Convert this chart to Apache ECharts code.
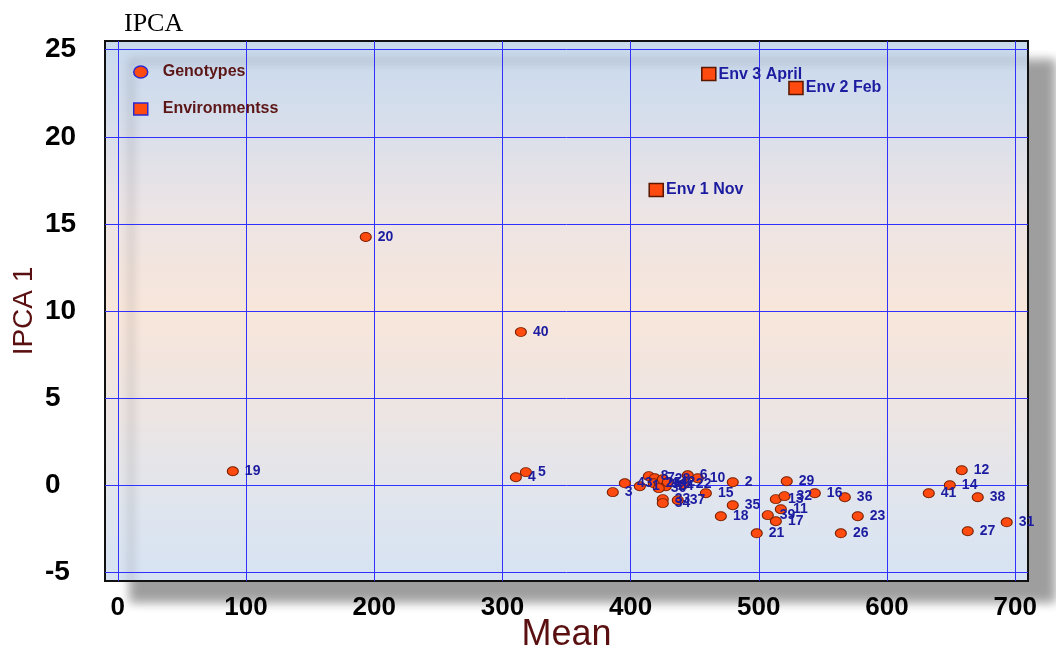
<!DOCTYPE html>
<html>
<head>
<meta charset="utf-8">
<title>IPCA</title>
<script src="https://cdn.jsdelivr.net/npm/echarts@6/dist/echarts.min.js"></script>
<style>
  html, body { margin: 0; padding: 0; background: #ffffff; }
  #chart { width: 1056px; height: 650px; }
</style>
</head>
<body>
<div id="chart"></div>
<script>
// Genotype scores: mean yield and first interaction principal component
const genotypeIds = ['2','3','4','5','6','10','11','12','13','14','15','16','17','18','19','20','21','22','23','26','27','29','31','32','33','34','35','36','37','38','39','40','41','43','1','8','7','25','9','28','24','30','42'];
const genotypeMean = [479.7,386.1,310.5,318.3,444.6,452.4,517.2,658.3,513.3,649.0,458.7,543.7,513.3,470.4,89.7,193.4,498.4,441.5,577.2,564.0,663.0,521.8,693.4,520.0,425.1,425.1,479.7,567.1,436.8,670.8,507.0,314.4,632.6,395.5,407.2,414.2,418.9,418.1,422.8,425.1,427.5,422.0,429.0];
const genotypeIpca1 = [0.17,-0.40,0.46,0.75,0.57,0.40,-1.38,0.86,-0.80,0.00,-0.46,-0.46,-2.07,-1.78,0.80,14.25,-2.76,0.06,-1.78,-2.76,-2.64,0.23,-2.13,-0.63,-0.80,-1.03,-1.15,-0.69,-0.86,-0.69,-1.72,8.79,-0.46,0.11,-0.06,0.52,0.40,0.11,0.06,0.34,-0.06,-0.17,0.17];

// Environment scores
const envNames = ['Env 1 Nov', 'Env 2 Feb', 'Env 3 April'];
const envMean = [420, 529, 461];
const envIpca1 = [16.95, 22.8, 23.6];

// Axis ticks
const xTicks = [0, 100, 200, 300, 400, 500, 600, 700];
const yTicks = [-5, 0, 5, 10, 15, 20, 25];

const genotypeData = genotypeIds.map((id, i) => ({ name: id, value: [genotypeMean[i], genotypeIpca1[i]] }));
const envData = envNames.map((n, i) => ({ name: n, value: [envMean[i], envIpca1[i]] }));

const chart = echarts.init(document.getElementById('chart'), null, { renderer: 'canvas' });

const gridLine = { show: true, lineStyle: { color: '#3030ff', width: 1 } };

chart.setOption({
  animation: false,
  backgroundColor: '#ffffff',
  title: {
    text: 'IPCA',
    left: 119,
    top: 6,
    textStyle: { fontFamily: 'Liberation Serif', fontSize: 26, fontWeight: 'normal', color: '#000000' }
  },
  legend: {
    orient: 'vertical',
    left: 133,
    top: 64,
    padding: 0,
    itemWidth: 14,
    itemHeight: 12,
    itemGap: 21,
    symbolKeepAspect: false,
    textStyle: {
      fontFamily: 'Liberation Sans',
      fontSize: 16,
      fontWeight: 'bold',
      color: '#5c1616',
      padding: [0, 0, 0, 10]
    },
    data: [
      {
        name: 'Genotypes',
        icon: 'path://M0,6 A7,6 0 1,1 14,6 A7,6 0 1,1 0,6 Z',
        itemStyle: { color: '#ff4a10', borderColor: '#2a2ad0', borderWidth: 1.5 }
      },
      {
        name: 'Environmentss',
        icon: 'rect',
        itemStyle: { color: '#ff4a10', borderColor: '#2a2ad0', borderWidth: 1.5 }
      }
    ]
  },
  grid: {
    left: 105,
    right: 28,
    top: 41,
    bottom: 69,
    outerBoundsMode: 'none',
    containLabel: false,
    show: true,
    borderColor: '#111111',
    borderWidth: 2,
    shadowColor: 'rgba(0,0,0,0.38)',
    shadowBlur: 10,
    shadowOffsetX: 26,
    shadowOffsetY: 20,
    backgroundColor: {
      type: 'linear', x: 0, y: 0, x2: 0, y2: 1,
      colorStops: [
        { offset: 0, color: '#c9daee' },
        { offset: 0.12, color: '#d3ddec' },
        { offset: 0.3, color: '#ebe4e6' },
        { offset: 0.5, color: '#f8e6da' },
        { offset: 0.7, color: '#ece5e4' },
        { offset: 0.88, color: '#dee5ef' },
        { offset: 1, color: '#d6e2f3' }
      ]
    }
  },
  xAxis: {
    type: 'value',
    min: -10,
    max: 710,
    name: 'Mean',
    nameLocation: 'middle',
    nameGap: 36,
    nameMoveOverlap: false,
    nameTextStyle: { fontFamily: 'Liberation Sans', fontSize: 36, color: '#5a1010' },
    axisLine: { show: false },
    axisTick: { show: false, customValues: xTicks },
    axisLabel: {
      customValues: xTicks,
      margin: 14,
      fontFamily: 'Liberation Sans',
      fontSize: 26,
      fontWeight: 'bold',
      color: '#000000'
    },
    splitLine: gridLine
  },
  yAxis: {
    type: 'value',
    min: -5.5,
    max: 25.5,
    name: 'IPCA 1',
    nameLocation: 'middle',
    nameGap: 67,
    nameMoveOverlap: false,
    nameTextStyle: { fontFamily: 'Liberation Sans', fontSize: 28, color: '#5a1010' },
    axisLine: { show: false },
    axisTick: { show: false, customValues: yTicks },
    axisLabel: {
      customValues: yTicks,
      align: 'left',
      margin: 60,
      fontFamily: 'Liberation Sans',
      fontSize: 28,
      fontWeight: 'bold',
      color: '#000000'
    },
    splitLine: gridLine
  },
  series: [
    {
      name: 'Genotypes',
      type: 'scatter',
      symbol: 'circle',
      symbolSize: [11, 9],
      itemStyle: { color: '#ff4a10', borderColor: '#7a2000', borderWidth: 1, opacity: 1 },
      label: {
        show: true,
        position: 'right',
        distance: 6,
        formatter: p => p.name,
        fontFamily: 'Liberation Sans',
        fontSize: 14,
        fontWeight: 'bold',
        color: '#1c1ca0'
      },
      data: genotypeData,
      z: 3
    },
    {
      name: 'Environmentss',
      type: 'scatter',
      symbol: 'rect',
      symbolSize: [14, 13],
      itemStyle: { color: '#ff4a10', borderColor: '#5a1800', borderWidth: 1.5, opacity: 1 },
      label: {
        show: true,
        position: 'right',
        distance: 2,
        formatter: p => p.name,
        fontFamily: 'Liberation Sans',
        fontSize: 16,
        fontWeight: 'bold',
        color: '#1c1ca0'
      },
      data: envData,
      z: 4
    }
  ]
});
</script>
</body>
</html>
